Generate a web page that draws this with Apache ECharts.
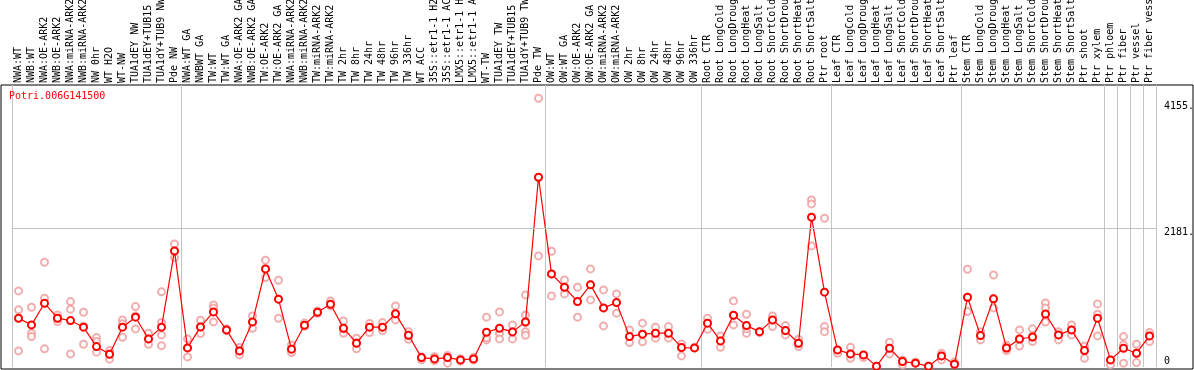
<!DOCTYPE html>
<html>
<head>
<meta charset="utf-8">
<script src="https://cdn.jsdelivr.net/npm/echarts@6/dist/echarts.min.js"></script>
<style>
html,body{margin:0;padding:0;background:#fff;}
#c{width:1194px;height:370px;}
</style>
</head>
<body>
<div id="c"></div>
<script>
const geneName = 'Potri.006G141500';
const categories = [
 'NWA:WT','NWB:WT','NWA:OE-ARK2','NWB:OE-ARK2','NWA:miRNA-ARK2','NWB:miRNA-ARK2','NW 0hr','WT H2O','WT-NW','TUA1dEY NW',
 'TUA1dEY+TUB15 NW','TUA1dY+TUB9 NW','Pde NW','NWA:WT GA','NWBWT GA','TW:WT','TW:WT GA','NWA:OE-ARK2 GA','NWB:OE-ARK2 GA','TW:OE-ARK2',
 'TW:OE-ARK2 GA','NWA:miRNA-ARK2','NWB:miRNA-ARK2','TW:miRNA-ARK2','TW:miRNA-ARK2','TW 2hr','TW 8hr','TW 24hr','TW 48hr','TW 96hr',
 'TW 336hr','WT ACC','35S::etr1-1 H2O','35S::etr1-1 ACC','LMX5::etr1-1 H2O','LMX5::etr1-1 ACC','WT-TW','TUA1dEY TW','TUA1dEY+TUB15 TW','TUA1dY+TUB9 TW',
 'Pde TW','OW:WT','OW:WT GA','OW:OE-ARK2','OW:OE-ARK2 GA','OW:miRNA-ARK2','OW:miRNA-ARK2','OW 2hr','OW 8hr','OW 24hr',
 'OW 48hr','OW 96hr','OW 336hr','Root CTR','Root LongCold','Root LongDrought','Root LongHeat','Root LongSalt','Root ShortCold','Root ShortDrought',
 'Root ShortHeat','Root ShortSalt','Ptr root','Leaf CTR','Leaf LongCold','Leaf LongDrought','Leaf LongHeat','Leaf LongSalt','Leaf ShortCold','Leaf ShortDrought',
 'Leaf ShortHeat','Leaf ShortSalt','Ptr leaf','Stem CTR','Stem LongCold','Stem LongDrought','Stem LongHeat','Stem LongSalt','Stem ShortCold','Stem ShortDrought',
 'Stem ShortHeat','Stem ShortSalt','Ptr shoot','Ptr xylem','Ptr phloem','Ptr fiber','Ptr vessel','Ptr fiber vessel'
];
const means = [
 767,662,1003,767,730,626,321,201,626,783,
 442,626,1825,300,630,866,583,253,709,1542,
 1066,280,657,861,987,610,374,626,626,839,
 500,148,127,148,112,127,547,610,552,709,
 2983,1463,1254,1028,1291,929,1012,478,516,531,
 531,305,300,689,410,814,651,556,740,572,
 374,2355,1176,269,206,190,10,295,85,60,
 10,174,44,1097,494,1071,299,440,472,833,
 505,583,258,767,112,295,217,489
];
const replicates = [
 [1196,898,253],[940,531,478],[1647,1081,285],[819,714,767],[1028,909,206],[861,358,640],[462,399,233],[258,123,210],[740,468,680],[950,599,800],
 [531,358,440],[1181,698,505,336],[1935,1720,1820],[442,159,300],[736,525,630],[976,924,709],[600,570],[305,190,260],[803,610,709],[1679,1405,1540],
 [1364,767,1066],[347,226,280],[690,640],[880,845],[1039,960],[725,531,600],[453,285,380],[682,541,626],[698,572,626],[960,740,830],
 [556,437,500],[112,160,148],[163,100,127],[60,180,150],[90,130,112],[150,110,127],[783,426,460],[866,531,442],[662,442,560],[1133,819,556,500,700],
 [4225,1746,2980],[1820,1118,1463],[1369,1149,1254],[1254,783,1028],[1542,1055,1291],[1212,646,929],[1149,846,1012],[583,384,478],[689,395,516],[626,453,531],
 [635,453,531],[363,174,305],[305,300],[767,594,689],[489,311,410],[1039,662,814],[830,531,600],[556,540],[803,635,740],[651,505,572],
 [437,321,374],[2627,2564,1904],[2339,635,556],[217,269],[311,138,206],[150,190],[6,10],[390,206,295],[112,30,85],[80,60],
 [15,6],[217,112,174],[80,44],[1537,871,1097],[556,426,494],[1447,929,1071],[340,260,299],[583,330,440],[600,400,472],[1006,929,707],
 [556,426,505],[662,505,583],[332,138,258],[992,830,489],[112,33],[478,347,60],[358,69,217],[541,399,489]
];
const yTickValues = [0, 2181, 4155];
const groupStarts = [0, 13, 41, 53, 63, 73, 84, 85, 86, 87];

const FONT = 'DejaVu Sans Mono';
const repData = [];
replicates.forEach((arr, i) => arr.forEach(v => repData.push([i, v])));

const chart = echarts.init(document.getElementById('c'), null, {renderer: 'canvas'});
chart.setOption({
  animation: false,
  backgroundColor: '#fff',
  title: {
    text: geneName, left: 9, top: 91, padding: 0,
    textStyle: {fontFamily: FONT, fontSize: 10, fontWeight: 'normal', color: '#ff0000'}
  },
  grid: [
    {left: 12, right: 38, top: 85, bottom: 3, show: false, containLabel: false, outerBoundsMode: 'none'},
    {left: 1, right: 1, top: 85, bottom: 1, show: true, borderColor: '#000', borderWidth: 1, backgroundColor: 'transparent', outerBoundsMode: 'none'}
  ],
  xAxis: [
    {
      type: 'category', data: categories, position: 'top', gridIndex: 0,
      boundaryGap: true,
      axisLine: {show: false}, axisTick: {show: false},
      axisLabel: {interval: 0, rotate: 90, margin: 2, hideOverlap: false, fontFamily: FONT, fontSize: 10, color: '#000'},
      splitLine: {show: true, interval: (idx) => groupStarts.includes(idx), lineStyle: {color: '#c4c4c4', width: 1}}
    },
    {type: 'value', gridIndex: 1, show: false, min: 0, max: 1}
  ],
  yAxis: [
    {
      type: 'value', gridIndex: 0, position: 'right', min: 0, max: 4433,
      axisLine: {show: false}, axisTick: {show: false}, splitLine: {show: false},
      axisLabel: {
        customValues: yTickValues, margin: 8, align: 'left', verticalAlign: 'middle',
        formatter: v => v === 0 ? '{z|0}' : '{n|' + v + '.}',
        rich: {
          z: {fontFamily: FONT, fontSize: 10, color: '#000', padding: [0, 0, 11, 0]},
          n: {fontFamily: FONT, fontSize: 10, color: '#000', padding: [8, 0, 0, 0]}
        }
      }
    },
    {type: 'value', gridIndex: 1, show: false, min: 0, max: 1}
  ],
  series: [
    {
      type: 'scatter', xAxisIndex: 0, yAxisIndex: 0, data: repData,
      symbol: 'emptyCircle', symbolSize: 7, z: 2,
      itemStyle: {color: '#ee9a9a', borderColor: '#ee9a9a', borderWidth: 1.5},
      silent: true
    },
    {
      type: 'line', xAxisIndex: 0, yAxisIndex: 0, data: means,
      symbol: 'emptyCircle', symbolSize: 7, showAllSymbol: true, z: 3,
      itemStyle: {color: '#ff0000', borderColor: '#ff0000', borderWidth: 2},
      lineStyle: {color: '#ff0000', width: 1.2},
      markLine: {
        silent: true, symbol: 'none', label: {show: false},
        lineStyle: {color: '#c4c4c4', width: 1, type: 'solid'},
        data: [{yAxis: yTickValues[1]}]
      }
    }
  ]
});
</script>
</body>
</html>
